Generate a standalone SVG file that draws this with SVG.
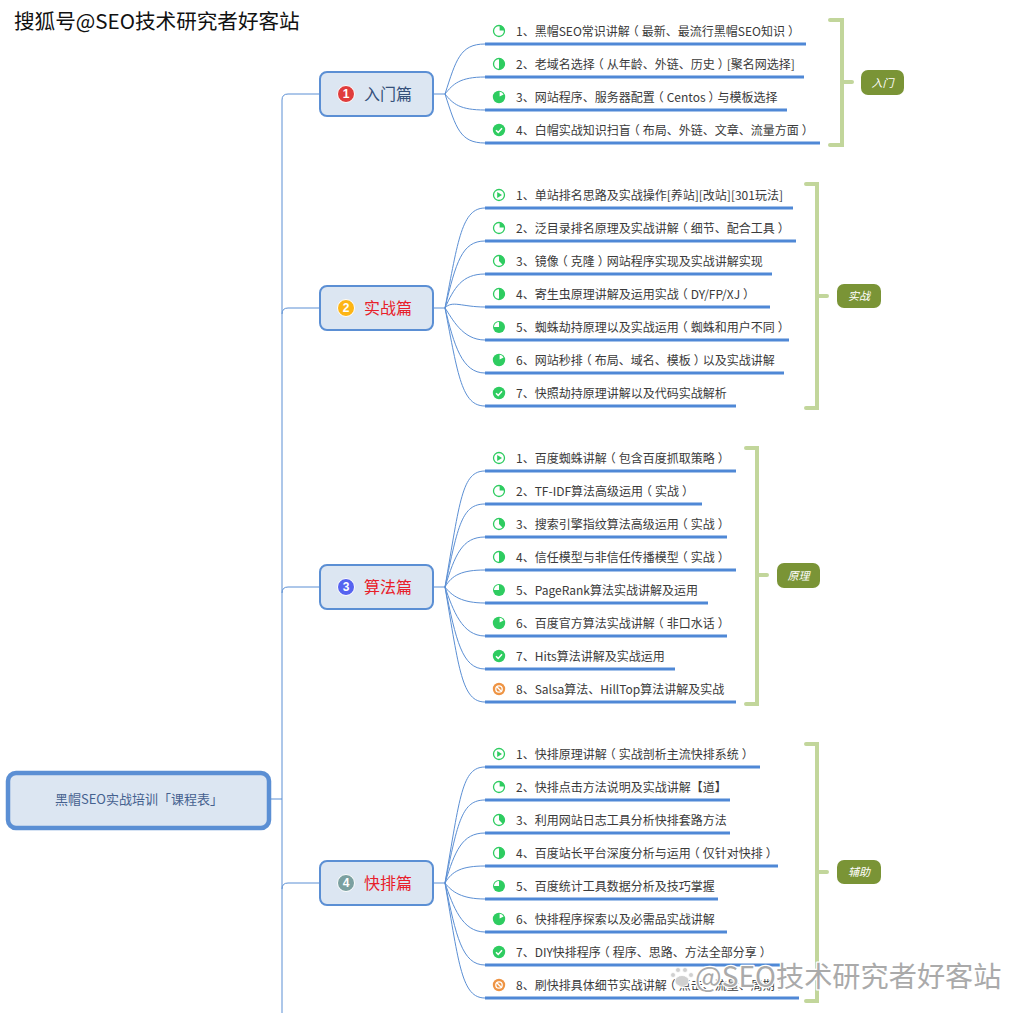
<svg xmlns="http://www.w3.org/2000/svg" width="1023" height="1013" viewBox="0 0 1023 1013">
<style>
text{font-family:"Noto Sans CJK SC","Liberation Sans",sans-serif}
.it{font-size:12px;fill:#3a3a3a}
.c{fill:none;stroke:#5b8fd4;stroke-width:1}
.u{fill:none;stroke:#4f88d6;stroke-width:3}
.br{fill:none;stroke:#c2d69b;stroke-width:4;stroke-linecap:round;stroke-linejoin:miter}
.sec{fill:#dce6f2;stroke:#5b8fd4;stroke-width:2}
.st{font-size:16px;fill:#e8202a}
.num{font-size:12px;font-weight:700;fill:#fff;text-anchor:middle;font-family:"Liberation Sans",sans-serif}
.tag{fill:#7a9436}
.tt{font-size:11px;font-style:italic;fill:#fff;text-anchor:middle}
.o{fill:#fff;stroke:#2ecc60;stroke-width:1.3}
.f{fill:#2ecc60}
.wm{paint-order:stroke;stroke:#fff;stroke-linejoin:round}
</style>
<defs>
<g id="i0"><circle class="o" r="5.5"/><path class="f" d="M-1.8-3V3L3 0Z"/></g>
<g id="i1"><circle class="o" r="5.5"/><path class="f" d="M.6-.6V-5.5A5.5 5.5 0 0 1 5.5-.6Z"/></g>
<g id="i2"><circle class="o" r="5.5"/><path class="f" d="M0 0V-5.5A5.5 5.5 0 0 1 3.9 3.9Z"/></g>
<g id="i4"><circle class="o" r="5.5"/><path class="f" d="M0-5.5A5.5 5.5 0 0 1 0 5.5Z"/></g>
<g id="i5"><circle class="f" r="6"/><path fill="#fff" d="M0 0V-5A5 5 0 0 0-5 0Z"/></g>
<g id="i6"><circle class="f" r="6.2"/><path fill="#fff" d="M.6-.4V-5.2A5.2 5.2 0 0 1 4.6-2.6Z"/></g>
<g id="i8"><circle class="f" r="6.2"/><path fill="none" stroke="#fff" stroke-width="1.5" d="M-3 .2L-.8 2.4L3 -1.8"/></g>
<g id="i9"><circle fill="#ee9444" r="6.2"/><circle fill="none" stroke="#fff" stroke-width="1.3" r="3.2"/><path stroke="#fff" stroke-width="1.3" d="M-2.2-2.2L2.2 2.2"/></g>
</defs>

<g id="connectors">
<path class="c" d="M269 799H282M282 1013V100Q282 94 288 94H320M282 314Q282 308 288 308H320M282 593Q282 587 288 587H320M282 889Q282 883 288 883H320"/>
<path class="c" d="M433 94H445C456 60 460 44 485 44M445 94C453 84 460 77 485 77M445 94C453 104 460 110 485 110M445 94C456 128 460 143 485 143"/>
<path class="c" d="M433 308H445C458 240 462 208 485 208M445 308C456 262 462 241 485 241M445 308C454 288 462 274 485 274M445 308C452 300 462 307 485 307M445 308C452 318 462 340 485 340M445 308C454 345 462 373 485 373M445 308C458 376 462 406 485 406"/>
<path class="c" d="M433 587H445C460 500 462 471 485 471M445 587C458 525 462 504 485 504M445 587C455 555 462 537 485 537M445 587C452 575 462 570 485 570M445 587C452 596 462 603 485 603M445 587C453 610 462 636 485 636M445 587C456 640 462 669 485 669M445 587C459 670 462 702 485 702"/>
<path class="c" d="M433 883H445C460 796 462 767 485 767M445 883C458 821 462 800 485 800M445 883C455 851 462 833 485 833M445 883C452 871 462 866 485 866M445 883C452 892 462 899 485 899M445 883C453 906 462 932 485 932M445 883C456 936 462 965 485 965M445 883C459 966 462 998 485 998"/>
<path class="u" d="M485 44H806M485 77H804M485 110H787M485 143H820"/>
<path class="u" d="M485 208H793M485 241H796M485 274H772M485 307H770M485 340H789M485 373H784M485 406H736"/>
<path class="u" d="M485 471H736M485 504H702M485 537H727M485 570H736M485 603H708M485 636H727M485 669H675M485 702H736"/>
<path class="u" d="M485 767H760M485 800H730M485 833H730M485 866H778M485 899H718M485 932H727M485 965H782M485 998H799"/>
<path class="br" d="M830 20H842V145H830M842 82H852"/>
<path class="br" d="M806 184H817V408H806M817 296H827"/>
<path class="br" d="M746 448H757V704H746M757 575H767"/>
<path class="br" d="M806 744H817V1001H806M817 872H827"/>
</g>

<g id="root"><rect x="8" y="773" width="261" height="55" rx="8" fill="#dce6f2" stroke="#5b8fd4" stroke-width="4.5"/><text x="138" y="804" font-size="13" fill="#45618f" text-anchor="middle" dx="1">黑帽SEO实战培训「课程表」</text></g>

<g id="n1"><rect class="sec" x="320" y="72" width="113" height="44" rx="7"/><circle cx="346" cy="94" r="8.5" fill="#e03c3c" stroke="#fff"/><text class="num" x="346" y="98">1</text><text class="st" x="364" y="100" style="fill:#35507a">入门篇</text></g>
<g id="n2"><rect class="sec" x="320" y="286" width="113" height="44" rx="7"/><circle cx="346" cy="308" r="8.5" fill="#fdb515" stroke="#fff"/><text class="num" x="346" y="312">2</text><text class="st" x="364" y="314">实战篇</text></g>
<g id="n3"><rect class="sec" x="320" y="565" width="113" height="44" rx="7"/><circle cx="346" cy="587" r="8.5" fill="#5663f0" stroke="#fff"/><text class="num" x="346" y="591">3</text><text class="st" x="364" y="593">算法篇</text></g>
<g id="n4"><rect class="sec" x="320" y="861" width="113" height="44" rx="7"/><circle cx="346" cy="883" r="8.5" fill="#7ba0a0" stroke="#fff"/><text class="num" x="346" y="887">4</text><text class="st" x="364" y="889">快排篇</text></g>

<g id="items">
<use href="#i1" x="499" y="31"/><text class="it" x="516" y="36">1、黑帽SEO常识讲解<tspan dx="-3">（</tspan><tspan dx="3">最新、最流行黑帽SEO知识</tspan><tspan dx="3">）</tspan></text>
<use href="#i4" x="499" y="64"/><text class="it" x="516" y="69">2、老域名选择<tspan dx="-3">（</tspan><tspan dx="3">从年龄、外链、历史</tspan><tspan dx="3">）</tspan><tspan dx="-3">[聚名网选择]</tspan></text>
<use href="#i6" x="499" y="97"/><text class="it" x="516" y="102">3、网站程序、服务器配置<tspan dx="-3">（</tspan><tspan dx="3">Centos</tspan><tspan dx="3">）</tspan><tspan dx="-3">与模板选择</tspan></text>
<use href="#i8" x="499" y="130"/><text class="it" x="516" y="135">4、白帽实战知识扫盲<tspan dx="-3">（</tspan><tspan dx="3">布局、外链、文章、流量方面</tspan><tspan dx="3">）</tspan></text>

<use href="#i0" x="499" y="195"/><text class="it" x="516" y="200">1、单站排名思路及实战操作[养站][改站][301玩法]</text>
<use href="#i1" x="499" y="228"/><text class="it" x="516" y="233">2、泛目录排名原理及实战讲解<tspan dx="-3">（</tspan><tspan dx="3">细节、配合工具</tspan><tspan dx="3">）</tspan></text>
<use href="#i2" x="499" y="261"/><text class="it" x="516" y="266">3、镜像<tspan dx="-3">（</tspan><tspan dx="3">克隆</tspan><tspan dx="3">）</tspan><tspan dx="-3">网站程序实现及实战讲解实现</tspan></text>
<use href="#i4" x="499" y="294"/><text class="it" x="516" y="299">4、寄生虫原理讲解及运用实战<tspan dx="-3">（</tspan><tspan dx="3">DY/FP/XJ</tspan><tspan dx="3">）</tspan></text>
<use href="#i5" x="499" y="327"/><text class="it" x="516" y="332">5、蜘蛛劫持原理以及实战运用<tspan dx="-3">（</tspan><tspan dx="3">蜘蛛和用户不同</tspan><tspan dx="3">）</tspan></text>
<use href="#i6" x="499" y="360"/><text class="it" x="516" y="365">6、网站秒排<tspan dx="-3">（</tspan><tspan dx="3">布局、域名、模板</tspan><tspan dx="3">）</tspan><tspan dx="-3">以及实战讲解</tspan></text>
<use href="#i8" x="499" y="393"/><text class="it" x="516" y="398">7、快照劫持原理讲解以及代码实战解析</text>

<use href="#i0" x="499" y="458"/><text class="it" x="516" y="463">1、百度蜘蛛讲解<tspan dx="-3">（</tspan><tspan dx="3">包含百度抓取策略</tspan><tspan dx="3">）</tspan></text>
<use href="#i1" x="499" y="491"/><text class="it" x="516" y="496">2、TF-IDF算法高级运用<tspan dx="-3">（</tspan><tspan dx="3">实战</tspan><tspan dx="3">）</tspan></text>
<use href="#i2" x="499" y="524"/><text class="it" x="516" y="529">3、搜索引擎指纹算法高级运用<tspan dx="-3">（</tspan><tspan dx="3">实战</tspan><tspan dx="3">）</tspan></text>
<use href="#i4" x="499" y="557"/><text class="it" x="516" y="562">4、信任模型与非信任传播模型<tspan dx="-3">（</tspan><tspan dx="3">实战</tspan><tspan dx="3">）</tspan></text>
<use href="#i5" x="499" y="590"/><text class="it" x="516" y="595">5、PageRank算法实战讲解及运用</text>
<use href="#i6" x="499" y="623"/><text class="it" x="516" y="628">6、百度官方算法实战讲解<tspan dx="-3">（</tspan><tspan dx="3">非口水话</tspan><tspan dx="3">）</tspan></text>
<use href="#i8" x="499" y="656"/><text class="it" x="516" y="661">7、Hits算法讲解及实战运用</text>
<use href="#i9" x="499" y="689"/><text class="it" x="516" y="694">8、Salsa算法、HillTop算法讲解及实战</text>

<use href="#i0" x="499" y="754"/><text class="it" x="516" y="759">1、快排原理讲解<tspan dx="-3">（</tspan><tspan dx="3">实战剖析主流快排系统</tspan><tspan dx="3">）</tspan></text>
<use href="#i1" x="499" y="787"/><text class="it" x="516" y="792">2、快排点击方法说明及实战讲解【道】</text>
<use href="#i2" x="499" y="820"/><text class="it" x="516" y="825">3、利用网站日志工具分析快排套路方法</text>
<use href="#i4" x="499" y="853"/><text class="it" x="516" y="858">4、百度站长平台深度分析与运用<tspan dx="-3">（</tspan><tspan dx="3">仅针对快排</tspan><tspan dx="3">）</tspan></text>
<use href="#i5" x="499" y="886"/><text class="it" x="516" y="891">5、百度统计工具数据分析及技巧掌握</text>
<use href="#i6" x="499" y="919"/><text class="it" x="516" y="924">6、快排程序探索以及必需品实战讲解</text>
<use href="#i8" x="499" y="952"/><text class="it" x="516" y="957">7、DIY快排程序<tspan dx="-3">（</tspan><tspan dx="3">程序、思路、方法全部分享</tspan><tspan dx="3">）</tspan></text>
<use href="#i9" x="499" y="985"/><text class="it" x="516" y="990">8、刷快排具体细节实战讲解<tspan dx="-3">（</tspan><tspan dx="3">点击、流量、周期</tspan><tspan dx="3">）</tspan></text>
</g>

<g id="t1"><rect class="tag" x="861" y="70" width="43" height="25" rx="7"/><text class="tt" x="882.500" y="87">入门</text></g>
<g id="t2"><rect class="tag" x="837" y="284" width="44" height="24" rx="7"/><text class="tt" x="859" y="300">实战</text></g>
<g id="t3"><rect class="tag" x="777" y="563" width="43" height="25" rx="7"/><text class="tt" x="798.500" y="580">原理</text></g>
<g id="t4"><rect class="tag" x="837" y="860" width="44" height="24" rx="7"/><text class="tt" x="859" y="876">辅助</text></g>

<text class="wm" x="14" y="29" font-size="20.600" fill="#111" stroke-width="3">搜狐号@SEO技术研究者好客站</text>
<g id="paw" fill="#d0d0d0" stroke="#fff" stroke-width=".8"><ellipse cx="682" cy="981" rx="7" ry="5.500"/><circle cx="673" cy="975" r="2.500"/><circle cx="678" cy="970" r="2.500"/><circle cx="685" cy="970" r="2.500"/><circle cx="691" cy="975" r="2.500"/></g>
<text class="wm" x="695" y="987" font-size="28.200" fill="#aaa" stroke-width="2.500">@SEO技术研究者好客站</text>
</svg>
